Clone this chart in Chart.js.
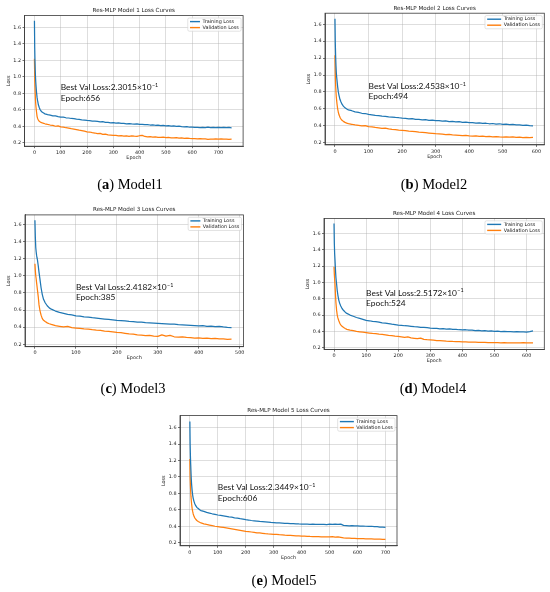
<!DOCTYPE html>
<html>
<head>
<meta charset="utf-8">
<script src="https://cdn.jsdelivr.net/npm/chart.js@4.4.1/dist/chart.umd.min.js"></script>
<style>
  body { margin: 0; background: #fff; }
  #page { position: relative; width: 550px; height: 592px; overflow: hidden; }
  canvas { position: absolute; left: 0; top: 0; }
  .cap { position: absolute; font-family: 'Liberation Serif', 'Times New Roman', serif; font-size: 14.5px; color: #000; transform: translate(-50%, -50%); white-space: nowrap; }
</style>
</head>
<body>
<div id="page">
  <canvas id="c1" width="550" height="592"></canvas>
  <canvas id="c2" width="550" height="592"></canvas>
  <canvas id="c3" width="550" height="592"></canvas>
  <canvas id="c4" width="550" height="592"></canvas>
  <canvas id="c5" width="550" height="592"></canvas>
  <div class="cap" style="left:130px;top:184px">(<b>a</b>) Model1</div>
  <div class="cap" style="left:434px;top:184px">(<b>b</b>) Model2</div>
  <div class="cap" style="left:133px;top:388px">(<b>c</b>) Model3</div>
  <div class="cap" style="left:433px;top:388px">(<b>d</b>) Model4</div>
  <div class="cap" style="left:284px;top:580px">(<b>e</b>) Model5</div>
</div>
<script>
// shared epoch positions (denser at the start where the loss drops fast)
const epochs = [0, 1, 2, 3, 4, 5, 6, 8, 10, 12, 15, 18, 21, 25, 30, 35, 40,
  50, 60, 70, 80, 90, 100,
  110, 120, 130, 140, 150, 160, 170, 180, 190, 200,
  210, 220, 230, 240, 250, 260, 270, 280, 290, 300,
  310, 320, 330, 340, 350, 360, 370, 380, 390, 400,
  410, 420, 430, 440, 450, 460, 470, 480, 490, 500,
  510, 520, 530, 540, 550, 560, 570, 580, 590, 600,
  610, 620, 630, 640, 650, 660, 670, 680, 690, 700,
  710, 720, 730, 740, 750];

const yTicks = [0.2, 0.4, 0.6, 0.8, 1.0, 1.2, 1.4, 1.6];
const xTicks1 = [0, 100, 200, 300, 400, 500, 600, 700];
const xTicks2 = [0, 100, 200, 300, 400, 500, 600];
const xTicks3 = [0, 100, 200, 300, 400, 500];
const xTicks4 = [0, 100, 200, 300, 400, 500, 600];
const xTicks5 = [0, 100, 200, 300, 400, 500, 600, 700];

const titles = ['Res-MLP Model 1 Loss Curves', 'Res-MLP Model 2 Loss Curves', 'Res-MLP Model 3 Loss Curves',
  'Res-MLP Model 4 Loss Curves', 'Res-MLP Model 5 Loss Curves'];
const bestLoss = ['2.3015', '2.4538', '2.4182', '2.5172', '2.3449'];
const bestEpoch = [656, 494, 385, 524, 606];

// Model 1
const train1 = [1.68, 1.36, 1.2, 1.08, 1.0, 0.94, 0.89, 0.81, 0.75, 0.71, 0.66, 0.63, 0.605, 0.585, 0.57, 0.56, 0.55,
  0.54, 0.535, 0.527, 0.525, 0.517, 0.512,
  0.51, 0.503, 0.5, 0.494, 0.492, 0.486, 0.483, 0.478, 0.475, 0.47,
  0.468, 0.463, 0.461, 0.458, 0.452, 0.455, 0.447, 0.446, 0.441, 0.443,
  0.438, 0.44, 0.434, 0.436, 0.43, 0.432, 0.428, 0.425, 0.43, 0.422,
  0.424, 0.419, 0.421, 0.415, 0.418, 0.412, 0.414, 0.408, 0.41, 0.405,
  0.407, 0.402, 0.404, 0.399, 0.401, 0.396, 0.393, 0.395, 0.388, 0.39,
  0.385, 0.387, 0.383, 0.386, 0.382, 0.388, 0.384, 0.387, 0.383, 0.386,
  0.384, 0.387, 0.382, 0.385, 0.381];
const val1 = [1.22, 1.0, 0.88, 0.79, 0.72, 0.67, 0.63, 0.57, 0.52, 0.495, 0.475, 0.462, 0.455, 0.447, 0.44, 0.436, 0.43,
  0.422, 0.415, 0.41, 0.4, 0.405, 0.392,
  0.39, 0.382, 0.378, 0.37, 0.366, 0.36, 0.352, 0.347, 0.34, 0.333,
  0.33, 0.322, 0.318, 0.31, 0.313, 0.302, 0.305, 0.296, 0.292, 0.288,
  0.29, 0.284, 0.286, 0.28, 0.282, 0.277, 0.283, 0.279, 0.276, 0.285,
  0.29, 0.276, 0.272, 0.274, 0.269, 0.271, 0.266, 0.264, 0.267, 0.262,
  0.264, 0.26, 0.258, 0.261, 0.256, 0.258, 0.254, 0.256, 0.252, 0.25,
  0.251, 0.248, 0.249, 0.246, 0.247, 0.241, 0.245, 0.243, 0.246, 0.244,
  0.246, 0.243, 0.245, 0.242, 0.244];

// Model 2
const train2 = [1.666, 1.38, 1.22, 1.11, 1.03, 0.98, 0.94, 0.86, 0.8, 0.76, 0.71, 0.68, 0.655, 0.632, 0.612, 0.598, 0.588,
  0.578, 0.565, 0.558, 0.548, 0.545, 0.535,
  0.53, 0.524, 0.52, 0.514, 0.511, 0.505, 0.503, 0.498, 0.495, 0.49,
  0.488, 0.482, 0.484, 0.477, 0.475, 0.47, 0.473, 0.465, 0.467, 0.46,
  0.462, 0.455, 0.458, 0.45, 0.452, 0.446, 0.448, 0.44, 0.442, 0.436,
  0.438, 0.432, 0.434, 0.428, 0.43, 0.424, 0.427, 0.421, 0.424, 0.418,
  0.42, 0.414, 0.416, 0.41, 0.412, 0.405, 0.408, 0.401, 0.398];
const val2 = [1.233, 1.0, 0.88, 0.8, 0.74, 0.7, 0.66, 0.6, 0.56, 0.53, 0.5, 0.48, 0.465, 0.452, 0.44, 0.432, 0.425,
  0.418, 0.41, 0.405, 0.398, 0.402, 0.39,
  0.387, 0.38, 0.376, 0.37, 0.372, 0.363, 0.358, 0.355, 0.35, 0.347,
  0.343, 0.338, 0.334, 0.33, 0.325, 0.322, 0.318, 0.314, 0.31, 0.306,
  0.303, 0.3, 0.296, 0.298, 0.292, 0.29, 0.288, 0.284, 0.286, 0.28,
  0.278, 0.281, 0.275, 0.277, 0.272, 0.274, 0.27, 0.273, 0.268, 0.266,
  0.27, 0.265, 0.268, 0.263, 0.266, 0.261, 0.264, 0.26, 0.262];

// Model 3
const train3 = [1.647, 1.45, 1.33, 1.28, 1.24, 1.21, 1.19, 1.12, 1.04, 0.97, 0.86, 0.78, 0.725, 0.685, 0.65, 0.625, 0.61,
  0.588, 0.572, 0.562, 0.55, 0.543, 0.532,
  0.528, 0.52, 0.516, 0.51, 0.506, 0.5, 0.495, 0.491, 0.485, 0.48,
  0.477, 0.472, 0.468, 0.466, 0.46, 0.458, 0.452, 0.45, 0.447, 0.443,
  0.44, 0.438, 0.434, 0.436, 0.43, 0.428, 0.425, 0.421, 0.418, 0.414,
  0.417, 0.41, 0.412, 0.405, 0.408, 0.402, 0.398, 0.396];
const val3 = [1.14, 1.06, 1.0, 0.965, 0.92, 0.88, 0.84, 0.76, 0.66, 0.6, 0.54, 0.5, 0.48, 0.465, 0.45, 0.44, 0.432,
  0.418, 0.41, 0.402, 0.408, 0.395, 0.39,
  0.385, 0.38, 0.378, 0.37, 0.365, 0.362, 0.355, 0.35, 0.345, 0.338,
  0.335, 0.328, 0.322, 0.318, 0.31, 0.306, 0.3, 0.305, 0.296, 0.292,
  0.31, 0.295, 0.305, 0.288, 0.284, 0.286, 0.28, 0.278, 0.272, 0.274,
  0.27, 0.272, 0.266, 0.268, 0.262, 0.264, 0.258, 0.26];

// Model 4
const train4 = [1.72, 1.48, 1.35, 1.28, 1.2, 1.12, 1.06, 0.98, 0.9, 0.845, 0.78, 0.74, 0.71, 0.68, 0.655, 0.635, 0.62,
  0.6, 0.585, 0.57, 0.56, 0.548, 0.535,
  0.53, 0.522, 0.518, 0.512, 0.505, 0.5, 0.494, 0.488, 0.483, 0.478,
  0.474, 0.469, 0.466, 0.462, 0.458, 0.455, 0.45, 0.448, 0.445, 0.441,
  0.438, 0.436, 0.432, 0.434, 0.428, 0.43, 0.424, 0.426, 0.42, 0.418,
  0.42, 0.414, 0.416, 0.41, 0.412, 0.406, 0.408, 0.403, 0.405, 0.4,
  0.402, 0.398, 0.4, 0.396, 0.398, 0.394, 0.396, 0.393, 0.395, 0.392, 0.397, 0.406];
const val4 = [1.19, 1.1, 1.04, 0.98, 0.9, 0.82, 0.75, 0.66, 0.6, 0.565, 0.53, 0.5, 0.48, 0.462, 0.448, 0.436, 0.425,
  0.415, 0.408, 0.4, 0.395, 0.39, 0.385,
  0.38, 0.375, 0.372, 0.366, 0.362, 0.358, 0.352, 0.348, 0.342, 0.338,
  0.333, 0.328, 0.332, 0.32, 0.315, 0.31, 0.318, 0.302, 0.298, 0.295,
  0.292, 0.288, 0.286, 0.284, 0.281, 0.279, 0.277, 0.276, 0.274, 0.272,
  0.271, 0.27, 0.268, 0.267, 0.266, 0.265, 0.264, 0.263, 0.262, 0.261,
  0.262, 0.26, 0.261, 0.259, 0.26, 0.258, 0.26, 0.259, 0.261, 0.258, 0.26, 0.259];

// Model 5
const train5 = [1.675, 1.4, 1.25, 1.15, 1.06, 0.98, 0.92, 0.84, 0.78, 0.74, 0.7, 0.67, 0.65, 0.63, 0.615, 0.6, 0.59,
  0.58, 0.568, 0.56, 0.552, 0.545, 0.537,
  0.532, 0.526, 0.52, 0.514, 0.51, 0.503, 0.498, 0.492, 0.488, 0.48,
  0.476, 0.47, 0.466, 0.462, 0.458, 0.455, 0.452, 0.449, 0.446, 0.444,
  0.442, 0.44, 0.438, 0.436, 0.435, 0.433, 0.432, 0.43, 0.428, 0.427,
  0.426, 0.425, 0.424, 0.425, 0.423, 0.424, 0.422, 0.424, 0.421, 0.425,
  0.422, 0.426, 0.423, 0.425, 0.41, 0.408, 0.406, 0.407, 0.405, 0.404,
  0.402, 0.403, 0.4, 0.398, 0.4, 0.396, 0.394, 0.39, 0.388, 0.386];
const val5 = [1.22, 1.0, 0.9, 0.82, 0.76, 0.72, 0.68, 0.62, 0.58, 0.55, 0.52, 0.5, 0.485, 0.47, 0.458, 0.448, 0.44,
  0.43, 0.422, 0.415, 0.408, 0.4, 0.395,
  0.39, 0.385, 0.38, 0.374, 0.368, 0.362, 0.356, 0.35, 0.344, 0.338,
  0.334, 0.33, 0.326, 0.32, 0.318, 0.314, 0.31, 0.307, 0.305, 0.302,
  0.3, 0.297, 0.295, 0.292, 0.29, 0.288, 0.286, 0.284, 0.282, 0.28,
  0.279, 0.278, 0.276, 0.275, 0.274, 0.273, 0.272, 0.271, 0.27, 0.27,
  0.275, 0.268, 0.272, 0.265, 0.258, 0.256, 0.255, 0.253, 0.252, 0.25,
  0.249, 0.248, 0.247, 0.246, 0.245, 0.244, 0.243, 0.242, 0.241, 0.24];

const trains = [train1, train2, train3, train4, train5];
const vals = [val1, val2, val3, val4, val5];
const xTicksAll = [xTicks1, xTicks2, xTicks3, xTicks4, xTicks5];

// plot-area boxes on the page and axis ranges
const panels = [
  { id: 'c1', L: 24.5, T: 15.6, R: 243.1, B: 146.2, xMin: -37.8, xMax: 793.8, yMin: 0.158, yMax: 1.742, handle: 10 },
  { id: 'c2', L: 325, T: 13.2, R: 544.3, B: 144.9, xMin: -29.7, xMax: 623.7, yMin: 0.174, yMax: 1.731, handle: 14 },
  { id: 'c3', L: 25, T: 214.9, R: 243.5, B: 346.7, xMin: -24.25, xMax: 509.25, yMin: 0.172, yMax: 1.71, handle: 10 },
  { id: 'c4', L: 324, T: 218.4, R: 544.3, B: 349.6, xMin: -31.2, xMax: 655.2, yMin: 0.177, yMax: 1.783, handle: 14 },
  { id: 'c5', L: 180, T: 415.6, R: 397, B: 545.8, xMin: -35.3, xMax: 741.3, yMin: 0.162, yMax: 1.747, handle: 14 }
];

const BLUE = '#1f77b4';
const ORANGE = '#ff7f0e';
const GRID = 'rgba(176,176,176,0.6)';
const SPINE = '#3a3a3a';

const panelText = {
    id: 'panelText',
    afterDraw(chart, args, o) {
        const ctx = chart.ctx;
        const a = chart.chartArea;
        const xs = chart.scales.x, ys = chart.scales.y;
        ctx.save();

        // full box around the axes
        ctx.strokeStyle = SPINE;
        ctx.lineWidth = 0.8;
        ctx.strokeRect(a.left, a.top, a.right - a.left, a.bottom - a.top);

        const cx = (a.left + a.right) / 2;
        ctx.fillStyle = '#222';
        ctx.textAlign = 'center';
        ctx.textBaseline = 'middle';
        ctx.font = '5.6px "DejaVu Sans"';
        ctx.fillText(o.title, cx, a.top - 5);
        ctx.font = '4.9px "DejaVu Sans"';
        ctx.fillText('Epoch', cx, a.bottom + 11.5);
        ctx.save();
        ctx.translate(a.left - 16, (a.top + a.bottom) / 2);
        ctx.rotate(-Math.PI / 2);
        ctx.fillText('Loss', 0, 0);
        ctx.restore();

        // legend, upper right
        ctx.font = '4.9px "DejaVu Sans"';
        const tw = ctx.measureText('Validation Loss').width;
        const bw = 2.2 + o.handle + 2.5 + tw + 2.2;
        const bx = a.right - 2 - bw, by = a.top + 2.4, bh = 13.2;
        ctx.fillStyle = 'rgba(255,255,255,0.85)';
        ctx.strokeStyle = '#d0d0d0';
        ctx.lineWidth = 0.6;
        ctx.beginPath();
        ctx.roundRect(bx, by, bw, bh, 1.5);
        ctx.fill();
        ctx.stroke();
        const rows = [['Training Loss', BLUE], ['Validation Loss', ORANGE]];
        rows.forEach(function(r, i) {
            const ry = by + 3.6 + i * 6;
            ctx.strokeStyle = r[1];
            ctx.lineWidth = 1.4;
            ctx.beginPath();
            ctx.moveTo(bx + 2.2, ry);
            ctx.lineTo(bx + 2.2 + o.handle, ry);
            ctx.stroke();
            ctx.fillStyle = '#222';
            ctx.textAlign = 'left';
            ctx.fillText(r[0], bx + 2.2 + o.handle + 2.5, ry);
        });

        // best validation annotation
        ctx.fillStyle = '#111';
        ctx.textAlign = 'left';
        ctx.textBaseline = 'alphabetic';
        const tx = xs.getPixelForValue(100);
        const ty = ys.getPixelForValue(0.7) - 1;
        const line1 = 'Best Val Loss:' + o.best + '\u00d710';
        ctx.font = '8.4px Lato';
        ctx.fillText(line1, tx, ty - 10.3);
        const w = ctx.measureText(line1).width;
        ctx.font = '5.4px Lato';
        ctx.fillText('\u22121', tx + w + 0.4, ty - 13.8);
        ctx.font = '8.4px Lato';
        ctx.fillText('Epoch:' + o.epoch, tx, ty);
        ctx.restore();
    }
};

function pts(values) {
    return values.map(function(v, i) { return { x: epochs[i], y: v }; });
}

panels.forEach(function(p, k) {
    const xTicks = xTicksAll[k];
    const tickFont = { family: "'DejaVu Sans'", size: 4.9 };
    // borderDash with no gap keeps the plain path renderer (no per-pixel min/max folding)
    const lineStyle = { borderWidth: 1.25, pointRadius: 0, tension: 0, borderDash: [4000, 0], borderJoinStyle: 'round' };
    new Chart(document.getElementById(p.id), {
        type: 'line',
        data: {
            datasets: [
                Object.assign({ label: 'Training Loss', data: pts(trains[k]), borderColor: BLUE }, lineStyle),
                Object.assign({ label: 'Validation Loss', data: pts(vals[k]), borderColor: ORANGE }, lineStyle)
            ]
        },
        options: {
            responsive: false,
            animation: false,
            events: [],
            layout: { padding: { left: p.L - 20, top: p.T, right: 550 - p.R, bottom: 592 - p.B - 16 } },
            plugins: {
                legend: { display: false },
                tooltip: { enabled: false },
                panelText: { title: titles[k], best: bestLoss[k], epoch: bestEpoch[k], handle: p.handle }
            },
            scales: {
                x: {
                    type: 'linear',
                    min: p.xMin,
                    max: p.xMax,
                    afterFit: function(s) { s.height = 16; },
                    afterBuildTicks: function(s) { s.ticks = xTicks.map(function(v) { return { value: v }; }); },
                    grid: { color: GRID, lineWidth: 0.7, tickLength: 2, tickColor: SPINE },
                    border: { color: SPINE, width: 0.8 },
                    ticks: { font: tickFont, color: '#222', padding: 1.5, maxRotation: 0, autoSkip: false }
                },
                y: {
                    type: 'linear',
                    min: p.yMin,
                    max: p.yMax,
                    afterFit: function(s) { s.width = 20; },
                    afterBuildTicks: function(s) { s.ticks = yTicks.map(function(v) { return { value: v }; }); },
                    grid: { color: GRID, lineWidth: 0.7, tickLength: 2, tickColor: SPINE },
                    border: { color: SPINE, width: 0.8 },
                    ticks: {
                        font: tickFont, color: '#222', padding: 1.5, autoSkip: false,
                        callback: function(value) { return Number(value).toFixed(1); }
                    }
                }
            }
        },
        plugins: [panelText]
    });
});
</script>
</body>
</html>
